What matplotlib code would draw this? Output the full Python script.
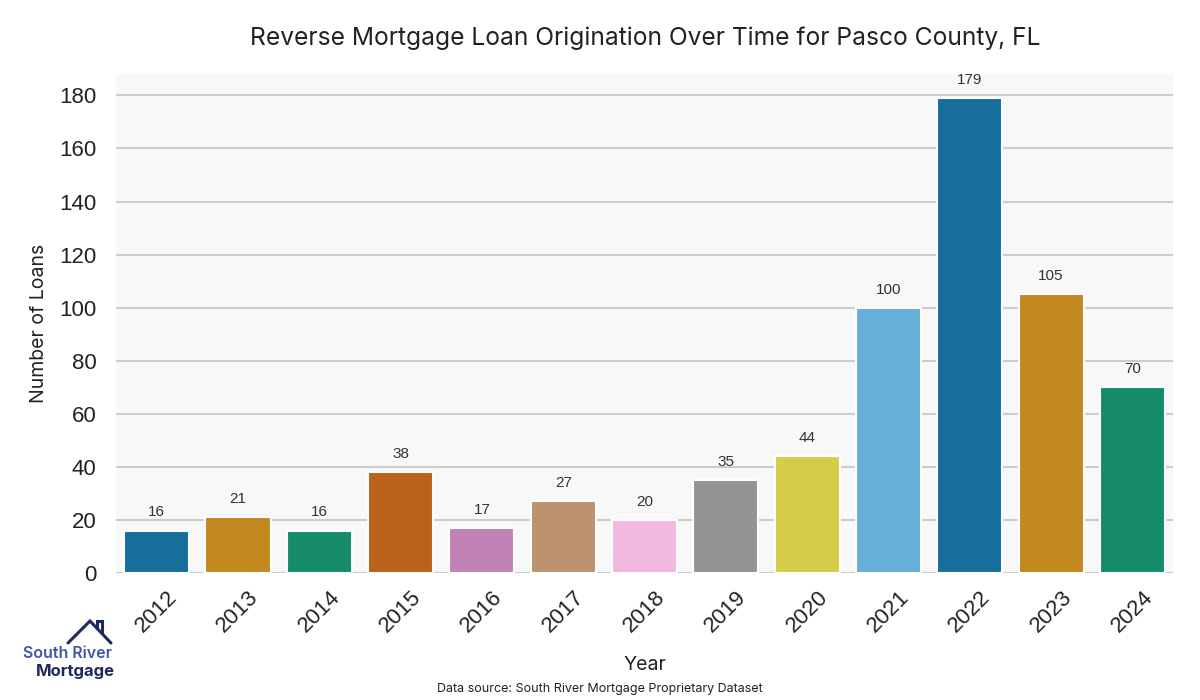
import matplotlib
matplotlib.use("Agg")
import matplotlib.pyplot as plt
import seaborn as sns
import pandas as pd
from matplotlib.lines import Line2D

years = ["2012", "2013", "2014", "2015", "2016", "2017", "2018",
         "2019", "2020", "2021", "2022", "2023", "2024"]
loans = [16, 21, 16, 38, 17, 27, 20, 35, 44, 100, 179, 105, 70]

title = "Reverse Mortgage Loan Origination Over Time for Pasco County, FL"
source = "Data source: South River Mortgage Proprietary Dataset"

df = pd.DataFrame({"Year": years, "Loans": loans})

sns.set_theme(style="whitegrid")
plt.rcParams["font.family"] = ["Liberation Sans", "DejaVu Sans"]
head_font = ["Inter", "DejaVu Sans"]

fig = plt.figure(figsize=(12, 7), dpi=100)
ax = fig.add_axes([0.0967, 0.1814, 0.8808, 0.7126])
ax.set_facecolor("#f8f8f8")

sns.barplot(data=df, x="Year", y="Loans", hue="Year", palette="colorblind",
            legend=False, ax=ax, edgecolor="white", linewidth=1.5)

for c in ax.containers:
    ax.bar_label(c, padding=8, fontsize=11, color="#333333")

ax.set_ylim(0, 188)
ax.set_xlim(-0.5, 12.5)
ax.set_yticks(range(0, 181, 20))
ax.tick_params(axis="y", labelsize=16, colors="#222222", pad=8)
ax.tick_params(axis="x", labelsize=16, colors="#222222", rotation=45)
ax.grid(axis="y", color="#cccccc", linewidth=1.5)
ax.grid(axis="x", visible=False)
for s in ax.spines.values():
    s.set_visible(False)

ax.set_xlabel("Year", fontsize=14, family=head_font, color="#222222", labelpad=14)
ax.set_ylabel("Number of Loans", fontsize=14, family=head_font, color="#222222", labelpad=8)
fig.text(0.5375, 0.945, title, ha="center", va="center", fontsize=17.7,
         family=head_font, color="#222222")
fig.text(0.5, 0.016, source, ha="center", va="center", fontsize=9,
         family=head_font, color="#222222")

# logo (house outline + wordmark)
navy = "#1f2a5c"
W, H = 1200.0, 700.0
roof = [(68, 643), (90, 621), (111, 643)]
chimney = [(97, 628), (97, 621), (102, 621), (102, 633)]
for pts in (roof, chimney):
    fig.add_artist(Line2D([p[0] / W for p in pts], [1 - p[1] / H for p in pts],
                          color=navy, lw=2.2, solid_joinstyle="miter",
                          transform=fig.transFigure))
fig.text(0.0195, 0.067, "South River", fontsize=11.5, family=head_font,
         color="#4055a8", weight="semibold", va="center")
fig.text(0.030, 0.041, "Mortgage", fontsize=12, family=head_font,
         color=navy, weight="bold", va="center")

fig.savefig("out.png", dpi=100)
